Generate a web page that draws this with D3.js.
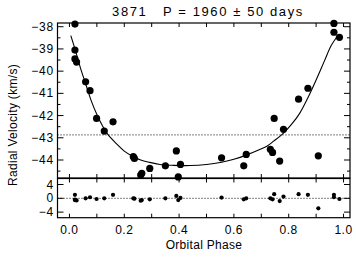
<!DOCTYPE html>
<html><head><meta charset="utf-8">
<script src="https://cdn.jsdelivr.net/npm/d3@7"></script>
<style>
html,body{margin:0;padding:0;background:#fff;}
svg{display:block;}
text{font-family:"Liberation Sans",Arial,sans-serif;fill:#000;}
</style></head>
<body>
<svg id="c" width="356" height="260"></svg>
<script>
// ---- data ----
const phase    = [0.020,0.020,0.020,0.026,0.059,0.075,0.099,0.127,0.159,0.233,0.237,0.260,0.264,0.293,0.350,0.390,0.397,0.405,0.555,0.636,0.645,0.733,0.741,0.747,0.767,0.781,0.836,0.870,0.908,0.965,0.965,0.985];
const velocity = [-37.88,-39.05,-39.45,-39.59,-40.48,-40.88,-42.13,-42.70,-42.28,-43.85,-43.93,-44.68,-44.60,-44.38,-44.26,-43.59,-44.76,-44.20,-43.90,-44.26,-43.75,-43.52,-43.66,-42.13,-44.05,-42.62,-41.26,-40.77,-43.81,-37.85,-38.25,-38.48];
const residual = [1.0,-0.5,-0.4,-0.6,0.0,0.3,-0.2,0.0,1.0,0.0,-0.1,-0.7,-0.5,-0.3,0.0,0.7,-0.5,0.1,0.2,-0.3,0.0,0.0,-0.3,1.2,-0.8,0.5,1.2,1.0,-2.9,1.0,0.3,-0.2];
const curvePhase = [0.005,0.02,0.04,0.06,0.08,0.10,0.12,0.14,0.17,0.20,0.233,0.26,0.29,0.33,0.38,0.44,0.50,0.555,0.60,0.645,0.69,0.72,0.745,0.78,0.81,0.84,0.87,0.90,0.93,0.955,0.976];
const curveVel   = [-38.40,-39.00,-39.85,-40.60,-41.35,-41.95,-42.45,-42.85,-43.25,-43.60,-43.85,-44.00,-44.10,-44.20,-44.24,-44.25,-44.20,-44.10,-43.97,-43.78,-43.55,-43.38,-43.15,-42.80,-42.40,-41.90,-41.20,-40.40,-39.55,-38.85,-38.45];
const gamma = -42.87;
const xTicks = [0.0,0.2,0.4,0.6,0.8,1.0];
const xMinor = [0.1,0.3,0.5,0.7,0.9];
const yTicks = [-38,-39,-40,-41,-42,-43,-44];
const yMinor = [-38.5,-39.5,-40.5,-41.5,-42.5,-43.5,-44.5];
const rTicks = [4,0,-4];
const title = "3871   P = 1960 \u00b1 50 days";
const xLabel = "Orbital Phase";
const yLabel = "Radial Velocity (km/s)";

// ---- layout ----
const L = 57.5, R = 350, T1 = 23, B1 = 178, T2 = 178.5, B2 = 217.7;
const svg = d3.select("#c");
const x = d3.scaleLinear().domain([-0.0436, 1.0236]).range([L, R]);
const y = d3.scaleLinear().domain([-44.81, -37.833]).range([B1, T1]);
const yr = d3.scaleLinear().domain([-5.62, 5.74]).range([B2, T2]);
const fmtMinus = d => (d < 0 ? "\u2212" : "") + Math.abs(d);

// frames
svg.append("rect").attr("x", L).attr("y", T1).attr("width", R - L).attr("height", B1 - T1)
  .attr("fill", "none").attr("stroke", "#000").attr("stroke-width", 1.2);
svg.append("rect").attr("x", L).attr("y", T2).attr("width", R - L).attr("height", B2 - T2)
  .attr("fill", "none").attr("stroke", "#000").attr("stroke-width", 1.2);

function hTicks(vals, yPos, len) {
  svg.append("g").selectAll("line").data(vals).join("line")
    .attr("x1", d => x(d)).attr("x2", d => x(d))
    .attr("y1", yPos).attr("y2", yPos + len)
    .attr("stroke", "#000").attr("stroke-width", 1);
}
function vTicks(vals, sc, len) {
  const g = svg.append("g");
  g.selectAll("line.l").data(vals).join("line").attr("class", "l")
    .attr("x1", L).attr("x2", L + len).attr("y1", d => sc(d)).attr("y2", d => sc(d))
    .attr("stroke", "#000").attr("stroke-width", 1);
  g.selectAll("line.r").data(vals).join("line").attr("class", "r")
    .attr("x1", R).attr("x2", R - len).attr("y1", d => sc(d)).attr("y2", d => sc(d))
    .attr("stroke", "#000").attr("stroke-width", 1);
}
const allX = xTicks.concat(xMinor);
hTicks(allX, T1, 4); hTicks(allX, B1, -4);
hTicks(allX, T2, 4); hTicks(allX, B2, -4);
vTicks(yTicks, y, 6); vTicks(yMinor, y, 3);
vTicks(rTicks, yr, 6);

// tick labels
svg.append("g").selectAll("text").data(yTicks).join("text")
  .attr("x", 54).attr("y", d => y(d) + 4).attr("text-anchor", "end")
  .attr("font-size", 12).attr("letter-spacing", 0.8).text(fmtMinus);
svg.append("g").selectAll("text").data(rTicks).join("text")
  .attr("x", 54).attr("y", d => yr(d) + 4).attr("text-anchor", "end")
  .attr("font-size", 12).attr("letter-spacing", 0.8).text(fmtMinus);
svg.append("g").selectAll("text").data(xTicks).join("text")
  .attr("x", d => x(d)).attr("y", 234).attr("text-anchor", "middle")
  .attr("font-size", 12).attr("letter-spacing", 0.5).text(d => d.toFixed(1));

// titles
svg.append("text").attr("x", 208).attr("y", 16).attr("text-anchor", "middle")
  .attr("font-size", 13).attr("letter-spacing", 1.6).style("white-space", "pre").text(title);
svg.append("text").attr("x", 204).attr("y", 249).attr("text-anchor", "middle")
  .attr("font-size", 12).attr("letter-spacing", 0.3).text(xLabel);
svg.append("text").attr("transform", "translate(17,125) rotate(-90)")
  .attr("text-anchor", "middle").attr("font-size", 12).attr("letter-spacing", 0.3).text(yLabel);

// dotted reference lines
svg.append("line").attr("x1", L).attr("x2", R).attr("y1", y(gamma)).attr("y2", y(gamma))
  .attr("stroke", "#000").attr("stroke-width", 1).attr("stroke-dasharray", "1,2");
svg.append("line").attr("x1", L).attr("x2", R).attr("y1", yr(0)).attr("y2", yr(0))
  .attr("stroke", "#000").attr("stroke-width", 1).attr("stroke-dasharray", "1,2");

// orbit curve
const curveData = curvePhase.map((p, i) => [p, curveVel[i]]);
svg.append("path").datum(curveData)
  .attr("d", d3.line().x(d => x(d[0])).y(d => y(d[1])).curve(d3.curveCatmullRom))
  .attr("fill", "none").attr("stroke", "#000").attr("stroke-width", 1.1);

// points
const pts = phase.map((p, i) => ({p, v: velocity[i], r: residual[i]}));
svg.append("g").selectAll("circle").data(pts).join("circle")
  .attr("cx", d => x(d.p)).attr("cy", d => y(d.v)).attr("r", 3.6).attr("fill", "#000");
svg.append("g").selectAll("circle").data(pts).join("circle")
  .attr("cx", d => x(d.p)).attr("cy", d => yr(d.r)).attr("r", 2.1).attr("fill", "#000");
</script>
</body></html>
